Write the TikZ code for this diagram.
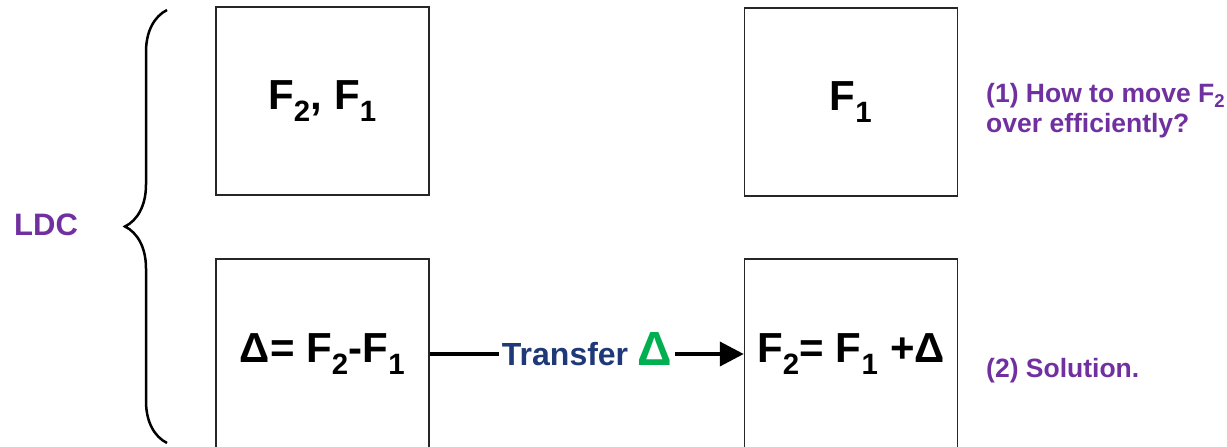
\documentclass[tikz,border=0pt]{standalone}
\usepackage{fontspec}
\setmainfont{Liberation Sans}
\usepackage{xcolor}
\usetikzlibrary{arrows.meta,%
                decorations.pathreplacing}

\definecolor{notepurple}{RGB}{112,48,160}
\definecolor{transferblue}{RGB}{31,56,120}
\definecolor{deltagreen}{RGB}{0,176,80}

\begin{document}
\begin{tikzpicture}[x=1pt,y=-1pt]
		\useasboundingbox (0,0) rectangle (1227,447);
		\tikzset{BoxStyle/.style = {draw=black!85,line width=1.5pt,minimum width=213pt,minimum height=188pt,inner sep=0pt,font=\fontsize{42}{50}\selectfont\bfseries}}
		\tikzset{NoteStyle/.style = {text=notepurple,inner sep=0pt,font=\fontsize{26.5}{30}\selectfont\bfseries}}
		% upper row
		\node[BoxStyle] (F21) at (322.5,101) {F\textsubscript{2}, F\textsubscript{1}};
		\node[BoxStyle] (F1) at (851,102) {F\textsubscript{1}};
		% lower row (runs off the bottom edge)
		{
			\tikzset{BoxStyle/.append style = {minimum height=190pt}}
			\node[BoxStyle] (D) at (322.5,354) {Δ= F\textsubscript{2}-F\textsubscript{1}};
			\node[BoxStyle] (F2) at (851,354) {F\textsubscript{2}= F\textsubscript{1} +Δ};
		}
		\tikzstyle{EdgeStyle}=[line width=4pt,-{Triangle[length=24pt,width=24pt]}]
		\draw[EdgeStyle] (D.east) -- node[fill=white,inner xsep=3pt,inner ysep=0pt,anchor=base,yshift=-11pt] (T)
			{\fontsize{32}{36}\selectfont\bfseries\color{transferblue}Transfer {\fontsize{48}{50}\selectfont\color{deltagreen}Δ}} (F2.west);
		% brace and its label
		\coordinate (bTop) at (167,10);
		\coordinate (bBot) at (167,443);
		\draw[line width=2.5pt,decorate,decoration={brace,amplitude=42pt}] (bBot) -- (bTop);
		\node[NoteStyle,font=\fontsize{31}{36}\selectfont\bfseries,anchor=base west] (LDC) at (14,235) {LDC};
		% notes on the right
		\node[NoteStyle,anchor=west,align=left] (Q1) at (986,111) {(1) How to move F\textsubscript{2}\\over efficiently?};
		\node[NoteStyle,anchor=base west] (Q2) at (986,377) {(2) Solution.};
\end{tikzpicture}
\end{document}
